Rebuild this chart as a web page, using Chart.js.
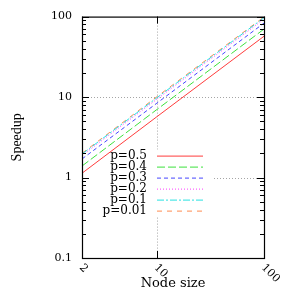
<!DOCTYPE html>
<html>
<head>
<meta charset="utf-8">
<script src="https://cdn.jsdelivr.net/npm/chart.js@4.4.1/dist/chart.umd.min.js"></script>
<style>
  html, body { margin: 0; padding: 0; background: #fff; }
</style>
</head>
<body>
<canvas id="chart" width="291" height="291"></canvas>
<script>
// node sizes where the curves were read
const nodeSizes = [2, 10, 100]
const labels = ['p=0.5', 'p=0.4', 'p=0.3', 'p=0.2', 'p=0.1', 'p=0.01']
const speedup05 = [1.13, 5.7, 57]
const speedup04 = [1.39, 7.0, 70]
const speedup03 = [1.7, 8.4, 83]
const speedup02 = [1.88, 9.4, 93]
const speedup01 = [1.96, 9.8, 97]
const speedup001 = [2.0, 10.1, 99]

const yTicks = [0.1, 1, 10, 100]
const xTicks = [2, 10, 100]
const yGrid = [1, 10]
const xGrid = [10]

const colors = ['rgb(255,60,60)', 'rgb(60,225,60)', 'rgb(70,70,255)', 'rgb(255,60,255)', 'rgb(40,225,225)', 'rgb(255,140,80)']
const dashes = [[], [8, 3], [4, 3], [1, 2], [7, 2, 2, 2], [5, 5]]

const series = [speedup05, speedup04, speedup03, speedup02, speedup01, speedup001]

const toPoints = (vals) => vals.map((v, i) => ({ x: nodeSizes[i], y: v }))

const serif = 'DejaVu Serif'

const gnuplotLook = {
  id: 'gnuplotLook',
  beforeDatasetsDraw(chart) {
    const { ctx, chartArea: a, scales: { x, y } } = chart
    ctx.save()
    ctx.strokeStyle = 'rgb(165,165,165)'
    ctx.lineWidth = 1
    ctx.setLineDash([1, 2])
    ctx.beginPath()
    yGrid.forEach(v => {
      const py = Math.round(y.getPixelForValue(v)) + 0.5
      ctx.moveTo(a.left, py)
      ctx.lineTo(a.right, py)
    })
    xGrid.forEach(v => {
      const px = Math.round(x.getPixelForValue(v)) + 0.5
      ctx.moveTo(px, a.top)
      ctx.lineTo(px, a.bottom)
    })
    ctx.stroke()
    // key area hides the grid
    ctx.fillStyle = '#fff'
    ctx.fillRect(a.left + 4, a.top + 133, 126, 67)
    ctx.restore()
  },
  afterDatasetsDraw(chart) {
    const { ctx, chartArea: a, scales: { x, y } } = chart
    ctx.save()

    // key
    ctx.font = '12px "' + serif + '"'
    ctx.textAlign = 'right'
    ctx.textBaseline = 'middle'
    chart.data.datasets.forEach((ds, i) => {
      const ry = a.top + 139 + i * 11
      ctx.fillStyle = '#000'
      ctx.fillText(ds.label, a.left + 65, ry)
      ctx.strokeStyle = ds.borderColor
      ctx.lineWidth = 1
      ctx.setLineDash(ds.borderDash)
      ctx.beginPath()
      ctx.moveTo(a.left + 75, ry + 0.5)
      ctx.lineTo(a.left + 121, ry + 0.5)
      ctx.stroke()
    })
    ctx.setLineDash([])

    // frame
    ctx.strokeStyle = '#000'
    ctx.lineWidth = 1.2
    ctx.strokeRect(a.left + 0.5, a.top + 0.5, a.right - a.left, a.bottom - a.top)

    // y ticks, both sides
    ctx.lineWidth = 1
    ctx.beginPath()
    yTicks.forEach((d, k) => {
      const py = Math.round(y.getPixelForValue(d)) + 0.5
      ctx.moveTo(a.left, py); ctx.lineTo(a.left + 7, py)
      ctx.moveTo(a.right, py); ctx.lineTo(a.right - 7, py)
      if (k === yTicks.length - 1) return
      for (let m = 2; m <= 9; m++) {
        const my = Math.round(y.getPixelForValue(d * m)) + 0.5
        ctx.moveTo(a.left, my); ctx.lineTo(a.left + 4, my)
        ctx.moveTo(a.right, my); ctx.lineTo(a.right - 4, my)
      }
    })
    xTicks.forEach(v => {
      const px = Math.round(x.getPixelForValue(v)) + 0.5
      ctx.moveTo(px, a.bottom); ctx.lineTo(px, a.bottom - 7)
      ctx.moveTo(px, a.top); ctx.lineTo(px, a.top + 7)
    })
    ctx.stroke()

    // rotated x tick labels
    ctx.fillStyle = '#000'
    ctx.font = '11px "' + serif + '"'
    ctx.textAlign = 'left'
    ctx.textBaseline = 'middle'
    xTicks.forEach(v => {
      const px = x.getPixelForValue(v)
      ctx.save()
      ctx.translate(px - 1, a.bottom + 8)
      ctx.rotate(Math.PI / 4)
      ctx.fillText(String(v), 0, 0)
      ctx.restore()
    })
    ctx.restore()
  }
}

const ctx = document.getElementById('chart').getContext('2d')
new Chart(ctx, {
  type: 'line',
  data: {
    datasets: series.map((vals, i) => ({
      label: labels[i],
      data: toPoints(vals),
      borderColor: colors[i],
      backgroundColor: colors[i],
      borderDash: dashes[i],
      borderWidth: 1,
      pointRadius: 0,
      tension: 0,
      fill: false,
    }))
  },
  options: {
    responsive: false,
    animation: false,
    layout: { padding: { top: 14, right: 27, left: 0, bottom: 0 } },
    plugins: {
      legend: { display: false },
      tooltip: { enabled: false },
    },
    scales: {
      x: {
        type: 'logarithmic',
        min: 2,
        max: 100,
        grid: { display: false },
        border: { display: false },
        ticks: { display: false },
        afterBuildTicks: s => { s.ticks = xTicks.map(v => ({ value: v })) },
        afterFit: s => { s.height = 33 },
        title: {
          display: true,
          text: 'Node size',
          color: '#000',
          font: { family: serif, size: 13 },
          padding: { top: 0, bottom: 0 },
        },
      },
      y: {
        type: 'logarithmic',
        min: 0.1,
        max: 100,
        grid: { display: false, drawTicks: false },
        border: { display: false },
        ticks: {
          color: '#000',
          font: { family: serif, size: 11 },
          padding: 10,
          callback: v => String(v),
        },
        afterBuildTicks: s => { s.ticks = yTicks.map(v => ({ value: v })) },
        afterFit: s => { s.width = 82 },
        title: {
          display: true,
          text: 'Speedup',
          color: '#000',
          font: { family: 'Liberation Serif', size: 14 },
          padding: { top: 9, bottom: 0 },
        },
      },
    },
  },
  plugins: [gnuplotLook],
})
</script>
</body>
</html>
